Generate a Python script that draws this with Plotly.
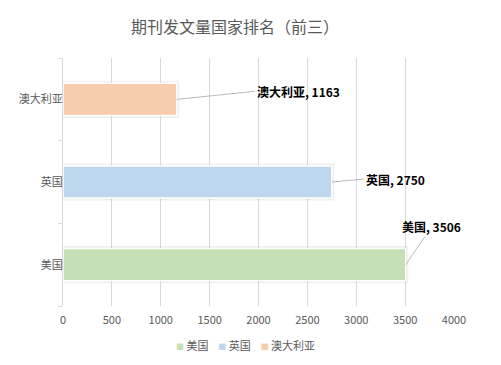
import plotly.graph_objects as go

countries = ["美国", "英国", "澳大利亚"]
values = [3506, 2750, 1163]
colors = ["#c5e0b4", "#bdd7ee", "#f8cbad"]
x_ticks = [0, 500, 1000, 1500, 2000, 2500, 3000, 3500, 4000]
label_offsets = [(26, -38), (32, -3), (78, -8)]  # pixel offsets for leader-line labels

FONT = "Noto Sans CJK SC, Microsoft YaHei, sans-serif"
W, H = 493, 357  # page body has an 8px margin

fig = go.Figure()
# soft shadow behind bars
fig.add_trace(go.Bar(
    y=countries, x=values, orientation="h", width=0.39, showlegend=False, hoverinfo="skip",
    marker=dict(color="rgba(0,0,0,0.10)", line=dict(color="rgba(0,0,0,0.06)", width=5)),
))
for c, v, col in zip(countries, values, colors):
    fig.add_trace(go.Bar(
        y=[c], x=[v], name=c, orientation="h",
        marker=dict(color=col, line=dict(color="white", width=1.5)),
        width=0.39, showlegend=False,
    ))

for c, v, (ax, ay) in zip(countries, values, label_offsets):
    fig.add_annotation(
        x=v, y=c, ax=ax, ay=ay, text=f"<b>{c}, {v}</b>",
        showarrow=True, arrowhead=0, arrowwidth=0.8, arrowcolor="#a6a6a6",
        xanchor="left" if ay > -20 else "center",
        font=dict(family=FONT, size=12, color="#000000"),
    )

# compact legend
legend_text = "    ".join(
    f'<span style="color:{col};font-size:8px">■</span> {c}' for c, col in zip(countries, colors)
)
fig.add_annotation(
    text=legend_text, xref="paper", yref="paper", x=(237 - 54.5) / 392, y=-39 / 248,
    showarrow=False, xanchor="center", yanchor="middle",
    font=dict(family=FONT, size=11, color="#595959"),
)

fig.update_layout(
    width=W, height=H,
    paper_bgcolor="white", plot_bgcolor="white",
    barmode="overlay",
    margin=dict(l=54.5, r=46.5, t=50, b=59, autoexpand=False),
    title=dict(text="期刊发文量国家排名（前三）", x=227 / W, xref="container", xanchor="center",
               y=1 - 19 / H, yref="container", yanchor="middle",
               font=dict(family=FONT, size=16, color="#595959")),
    font=dict(family=FONT, size=11, color="#595959"),
    xaxis=dict(range=[0, 4000], tickvals=x_ticks, showgrid=True, gridcolor="#d9d9d9",
               gridwidth=1, zeroline=False, showline=False, ticks="", automargin=False,
               ticklabelstandoff=6, tickfont=dict(size=11, color="#595959")),
    yaxis=dict(categoryorder="array", categoryarray=countries, showline=True, automargin=False,
               linecolor="#d9d9d9", ticks="outside", tickson="boundaries", ticklen=4,
               ticklabelstandoff=-3,
               tickcolor="#d9d9d9", showgrid=False, tickfont=dict(size=11, color="#595959")),
    showlegend=False,
)

fig.write_html("out.html")
